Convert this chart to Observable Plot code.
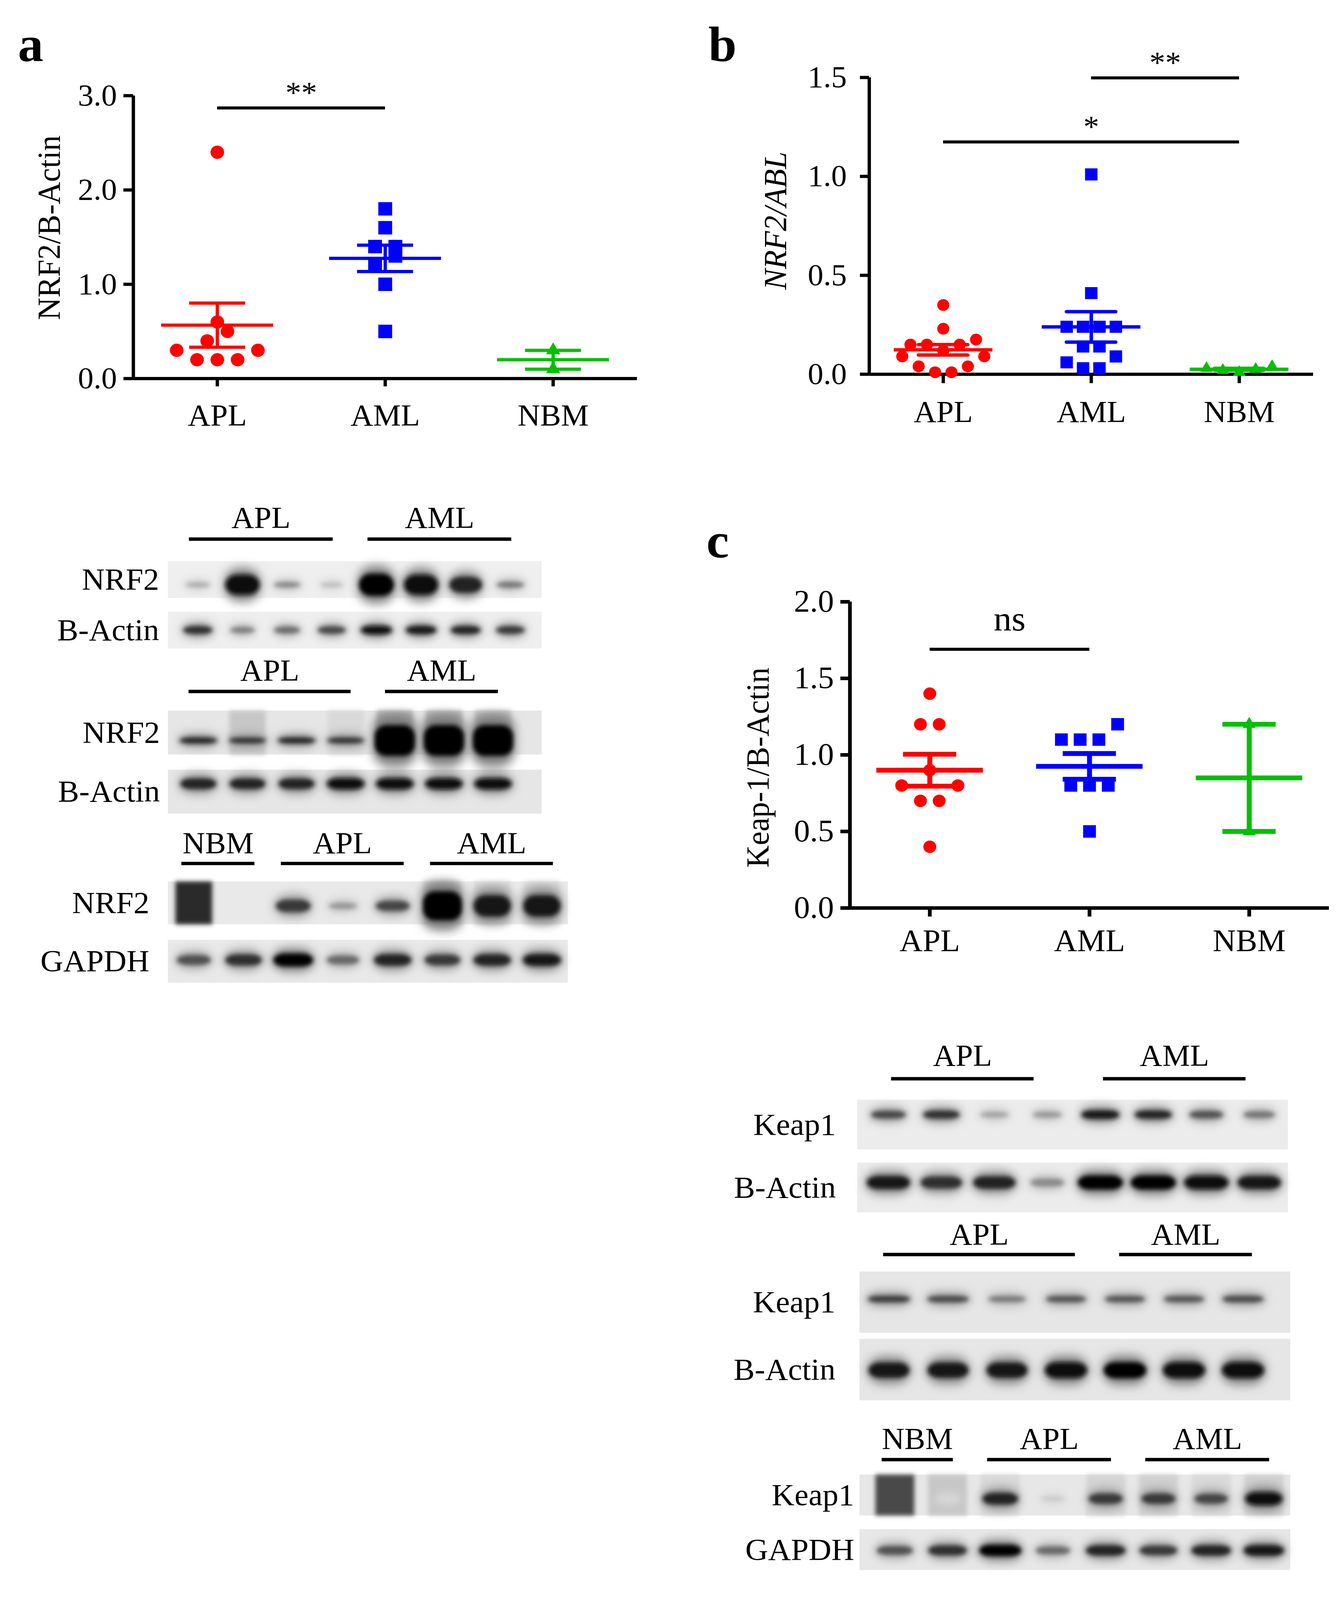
<!DOCTYPE html>
<html>
<head>
<meta charset="utf-8">
<script src="https://cdn.jsdelivr.net/npm/d3@7"></script>
<script src="https://cdn.jsdelivr.net/npm/@observablehq/plot@0.6"></script>
<style>
html, body { margin: 0; padding: 0; background: #fff; overflow: hidden; }
#fig { position: relative; width: 3434px; height: 4222px; background: #fff; overflow: hidden; transform-origin: 0 0; }
.panel { position: absolute; }
.panel svg { display: block; max-width: none !important; }
.letter { position: absolute; font: bold 130px/1 "Liberation Serif", "Times New Roman", serif; color: #000; }
svg g[aria-label^="x-axis"] line, svg g[aria-label^="y-axis"] line,
svg g[aria-label="x-axis tick"] path, svg g[aria-label="y-axis tick"] path { stroke-width: var(--tw, 8.5px); }
</style>
</head>
<body>
<div id="fig"></div>
<script>
// ---------------- DATA ----------------
const categories = ["APL", "AML", "NBM"];

// (a) NRF2 protein / B-Actin
const nrf2ProteinAPL = [2.4, 0.6, 0.5, 0.4, 0.3, 0.3, 0.2, 0.2, 0.2];
const nrf2ProteinAML = [1.8, 1.6, 1.4, 1.4, 1.3, 1.2, 1.0, 0.5];
const nrf2ProteinNBM = [0.3, 0.1];
const yTicksA = [0, 1, 2, 3];
const sigA = [{from: "APL", to: "AML", label: "**", y: 2.87}];

// (b) NRF2 mRNA / ABL
const nrf2mRNA_APL = [0.35, 0.23, 0.175, 0.15, 0.15, 0.15, 0.12, 0.09, 0.09, 0.04, 0.04, 0.01, 0.01];
const nrf2mRNA_AML = [1.01, 0.41, 0.24, 0.24, 0.24, 0.24, 0.14, 0.14, 0.09, 0.06, 0.03, 0.03];
const nrf2mRNA_NBM = [0.04, 0.025, 0.01, 0.02, 0.03];
const yTicksB = [0, 0.5, 1, 1.5];
const sigB = [
  {from: "APL", to: "NBM", label: "*", y: 1.174},
  {from: "AML", to: "NBM", label: "**", y: 1.498}
];

// (c) Keap-1 / B-Actin
const keap1APL = [1.4, 1.2, 1.2, 0.9, 0.8, 0.8, 0.7, 0.7, 0.4];
const keap1AML = [1.2, 1.1, 1.1, 1.1, 0.8, 0.8, 0.8, 0.5];
const keap1NBM = [1.2, 0.5];
const yTicksC = [0, 0.5, 1, 1.5, 2];
const sigC = [{from: "APL", to: "AML", label: "ns", y: 1.69}];

// Western blots: lane groups and band intensities (0 = none, 1 = saturated)
const blotA1Lanes = ["APL", "APL", "APL", "APL", "AML", "AML", "AML", "AML"];
const blotA1NRF2 = [0.3, 0.95, 0.45, 0.2, 1.0, 0.95, 0.85, 0.5];
const blotA1Actin = [0.8, 0.45, 0.55, 0.7, 0.95, 0.9, 0.85, 0.75];

const blotA2Lanes = ["APL", "APL", "APL", "APL", "AML", "AML", "AML"];
const blotA2NRF2 = [0.85, 0.8, 0.85, 0.8, 1.0, 1.0, 1.0];
const blotA2NRF2Smear = [0, 0.12, 0, 0.04, 0.22, 0.2, 0.16];
const blotA2Actin = [0.85, 0.85, 0.85, 0.95, 0.95, 0.95, 0.95];

const blotA3Lanes = ["NBM", "NBM", "APL", "APL", "APL", "AML", "AML", "AML"];
const blotA3NRF2 = [0, 0, 0.75, 0.35, 0.7, 1.0, 0.9, 0.9];
const blotA3NRF2Smear = [0.82, 0, 0, 0, 0, 0.1, 0.04, 0.04];
const blotA3GAPDH = [0.65, 0.8, 1.0, 0.55, 0.85, 0.75, 0.85, 0.9];

const blotC1Lanes = ["APL", "APL", "APL", "APL", "AML", "AML", "AML", "AML"];
const blotC1Keap1 = [0.7, 0.8, 0.3, 0.35, 0.9, 0.85, 0.65, 0.5];
const blotC1Actin = [0.9, 0.8, 0.85, 0.4, 1.0, 1.0, 0.95, 0.9];

const blotC2Lanes = ["APL", "APL", "APL", "APL", "AML", "AML", "AML"];
const blotC2Keap1 = [0.75, 0.7, 0.5, 0.65, 0.65, 0.65, 0.7];
const blotC2Actin = [0.9, 0.9, 0.9, 0.97, 1.0, 0.97, 0.97];

const blotC3Lanes = ["NBM", "NBM", "APL", "APL", "APL", "AML", "AML", "AML"];
const blotC3Keap1 = [0, 0.05, 0.85, 0.12, 0.75, 0.75, 0.7, 0.95];
const blotC3Keap1Smear = [0.68, 0.12, 0.04, 0, 0.06, 0.08, 0.04, 0.08];
const blotC3GAPDH = [0.65, 0.8, 1.0, 0.55, 0.85, 0.75, 0.85, 0.9];

// ---------------- STYLE ----------------
const COLORS = {APL: "#ff0000", AML: "#0000ff", NBM: "#00c000"};
const SYMBOLS = {APL: "circle", AML: "square", NBM: "triangle"};
const FONT = "'Liberation Serif', 'Times New Roman', serif";

const fig = document.getElementById("fig");
// fit the 3434x4222 figure into the visible viewport
(function fit() {
  const vw = window.innerWidth || 3434, vh = window.innerHeight || 4222;
  const sx = Math.min(1, vw / 3434), sy = Math.min(1, vh / 4222);
  if (sx < 1 || sy < 1) fig.style.transform = `scale(${sx}, ${sy})`;
})();

function place(node, left, top, w, h, extraStyle) {
  const d = document.createElement("div");
  d.className = "panel";
  d.style.left = left + "px"; d.style.top = top + "px";
  d.style.width = w + "px"; d.style.height = h + "px";
  if (extraStyle) for (const k in extraStyle) d.style.setProperty(k, extraStyle[k]);
  d.appendChild(node);
  fig.appendChild(d);
  return d;
}
function letter(t, left, top) {
  const d = document.createElement("div");
  d.className = "letter"; d.textContent = t;
  d.style.left = left + "px"; d.style.top = top + "px";
  fig.appendChild(d);
}

// GraphPad-like scatter spreading: points binned into rows, spread symmetrically
function swarm(values, pxPerUnit, rowPx, slotPx) {
  const pts = values.map(v => ({v})).sort((a, b) => a.v - b.v);
  const rows = [];
  for (const p of pts) {
    const cur = rows[rows.length - 1];
    if (!cur || (p.v - cur[0].v) * pxPerUnit >= rowPx) rows.push([p]); else cur.push(p);
  }
  for (const row of rows) {
    const n = row.length;
    row.forEach((p, k) => {
      let s;
      if (n % 2) s = k === 0 ? 0 : Math.ceil(k / 2) * (k % 2 ? -1 : 1);
      else s = (Math.floor(k / 2) + 0.5) * (k % 2 ? 1 : -1);
      p.off = s * slotPx;
    });
  }
  return pts;
}

function scatterPanel(cfg) {
  const L = cfg.layout, S = cfg.style;
  const nc = categories.length;
  const fw = L.width - L.marginLeft - L.marginRight;
  const fh = L.height - L.marginTop - L.marginBottom;
  const pxX = fw / nc;
  const pxY = fh / (cfg.yDomain[1] - cfg.yDomain[0]);
  const marks = [];
  marks.push(Plot.ruleY([cfg.yDomain[0]], {x1: -0.5, x2: nc - 0.5, strokeWidth: S.axisWidth}));
  marks.push(Plot.ruleX([-0.5], {y1: cfg.yDomain[0], y2: cfg.yDomain[1], strokeWidth: S.axisWidth}));
  cfg.groups.forEach((values, gi) => {
    const cat = categories[gi];
    const pts = swarm(values, pxY, S.rowPx, S.slotPx).map(p => ({value: p.v, x: gi + p.off / pxX}));
    marks.push(Plot.dot(pts, {x: "x", y: "value", r: S.r[cat], symbol: SYMBOLS[cat], fill: COLORS[cat], stroke: "none"}));
    const m = d3.mean(values), se = d3.deviation(values) / Math.sqrt(values.length);
    const st = [{m, lo: m - se, hi: m + se}];
    marks.push(Plot.ruleX(st, {x: gi, y1: "lo", y2: "hi", stroke: COLORS[cat], strokeWidth: S.lineWidth}));
    marks.push(Plot.ruleY(st, {y: "m", x1: gi - 1 / 3, x2: gi + 1 / 3, stroke: COLORS[cat], strokeWidth: S.lineWidth}));
    marks.push(Plot.ruleY([st[0].lo, st[0].hi], {y: d => d, x1: gi - 1 / 6, x2: gi + 1 / 6, stroke: COLORS[cat], strokeWidth: S.lineWidth, strokeLinecap: S.capLinecap}));
  });
  cfg.sig.forEach(s => {
    const i1 = categories.indexOf(s.from), i2 = categories.indexOf(s.to);
    const star = /^\*+$/.test(s.label);
    marks.push(Plot.ruleY([s], {y: "y", x1: i1, x2: i2, strokeWidth: S.sigWidth}));
    marks.push(Plot.text([s], {x: (i1 + i2) / 2, y: "y", text: "label", lineAnchor: "bottom",
      dy: star ? -14 : -50, fontSize: star ? 81 : 92}));
  });
  marks.push(Plot.text([cfg.yLabel], {text: d => d, frameAnchor: "left", rotate: -90, textAnchor: "middle", lineAnchor: "middle",
    dx: L.labelDx, dy: L.labelDy, fontSize: 82, fontStyle: cfg.italic ? "italic" : "normal"}));
  return Plot.plot({
    width: L.width, height: L.height,
    marginLeft: L.marginLeft, marginRight: L.marginRight, marginTop: L.marginTop, marginBottom: L.marginBottom,
    x: {domain: [-0.5, nc - 0.5], ticks: d3.range(nc), tickFormat: i => categories[i],
        tickSize: S.xTickSize, tickPadding: S.xTickPad, label: null},
    y: {domain: cfg.yDomain, ticks: cfg.yTicks, tickFormat: d3.format(".1f"),
        tickSize: S.yTickSize, tickPadding: S.yTickPad, label: null},
    style: {fontFamily: FONT, fontSize: S.fontSize + "px", color: "#000", background: "transparent", overflow: "visible"},
    marks
  });
}

function runs(labels) {
  const out = [];
  labels.forEach((l, i) => {
    const last = out[out.length - 1];
    if (last && last.name === l) last.last = i; else out.push({name: l, first: i, last: i});
  });
  return out;
}

let blurId = 0;
function addFilters(svg, specs) {
  const ns = "http://www.w3.org/2000/svg";
  const defs = document.createElementNS(ns, "defs");
  svg.insertBefore(defs, svg.firstChild);
  for (const [desc, std] of specs) {
    const id = "blotblur" + (blurId++);
    const f = document.createElementNS(ns, "filter");
    f.setAttribute("id", id);
    f.setAttribute("x", "-50%"); f.setAttribute("y", "-100%");
    f.setAttribute("width", "200%"); f.setAttribute("height", "300%");
    const gb = document.createElementNS(ns, "feGaussianBlur");
    gb.setAttribute("stdDeviation", std);
    f.appendChild(gb); defs.appendChild(f);
    svg.querySelectorAll(`g[aria-description="${desc}"]`).forEach(g => g.setAttribute("filter", `url(#${id})`));
  }
}

function blotPanel(cfg) {
  const L = cfg.layout;
  const n = cfg.lanes.length;
  const g = L.gap / L.stripH;
  const nr = cfg.rows.length;
  const H = nr + (nr - 1) * g;
  const xDom = [-L.padL, n + L.padR];
  const rows = cfg.rows.map((r, ri) => ({...r, top: ri * (1 + g)}));
  const bands = [], halos = [], smears = [];
  rows.forEach((r, ri) => {
    const st = cfg.rowStyles[ri];
    r.values.forEach((v, i) => {
      if (v <= 0) return;
      const h = Math.max(st.hmin, st.hmax * Math.pow(v, st.gamma));
      const w = st.wmax * (0.6 + 0.4 * v);
      const cy = r.top + st.center;
      bands.push({v, x1: i + 0.5 - w / 2, x2: i + 0.5 + w / 2, y1: cy - h / 2, y2: cy + h / 2});
      const hh = h * 1.6 + 0.06, hw = w * 1.08;
      halos.push({v: v * 0.45, x1: i + 0.5 - hw / 2, x2: i + 0.5 + hw / 2, y1: cy - hh / 2, y2: cy + hh / 2});
    });
    (r.smear || []).forEach((s, i) => {
      if (s > 0) smears.push({s, x1: i + 0.13, x2: i + 0.87, y1: r.top, y2: r.top + 1});
    });
  });
  const groups = runs(cfg.lanes);
  const svgTop = L.top - 140;
  const height = 140 + H * L.stripH + 20;
  const svg = Plot.plot({
    width: L.svgWidth, height,
    marginLeft: L.left - L.svgLeft, marginRight: L.svgLeft + L.svgWidth - L.right,
    marginTop: 140, marginBottom: 20,
    x: {domain: xDom, axis: null},
    y: {domain: [0, H], reverse: true, axis: null},
    color: {type: "linear", domain: [0, 1], range: ["#e2e2e2", "#000000"]},
    style: {fontFamily: FONT, fontSize: "80px", color: "#000", background: "transparent", overflow: "visible"},
    marks: [
      Plot.rect(rows, {x1: xDom[0], x2: xDom[1], y1: "top", y2: d => d.top + 1, fill: L.bg}),
      Plot.rect(smears, {x1: "x1", x2: "x2", y1: "y1", y2: "y2", fill: "s", ariaDescription: "smear"}),
      Plot.rect(halos, {x1: "x1", x2: "x2", y1: "y1", y2: "y2", fill: "v", rx: 40, ariaDescription: "halo"}),
      Plot.rect(bands, {x1: "x1", x2: "x2", y1: "y1", y2: "y2", fill: "v", rx: 30, ariaDescription: "bands"}),
      Plot.text(rows, {x: xDom[0], y: d => d.top + 0.5, text: "name", textAnchor: "end", dx: -L.labelPad, fontSize: 81}),
      Plot.ruleY(groups, {x1: d => d.first + L.barInset[0], x2: d => d.last + L.barInset[1], y: -L.barY / L.stripH, strokeWidth: 9}),
      Plot.text(groups, {x: d => (d.first + L.barInset[0] + d.last + L.barInset[1]) / 2, y: -L.textY / L.stripH,
        text: "name", lineAnchor: "bottom", fontSize: 80})
    ]
  });
  addFilters(svg, [["smear", 6], ["halo", 13], ["bands", 6]]);
  place(svg, L.svgLeft, svgTop, L.svgWidth, height);
}

// ---------------- SCATTER PANELS ----------------
const plotA = scatterPanel({
  groups: [nrf2ProteinAPL, nrf2ProteinAML, nrf2ProteinNBM],
  yDomain: [0, 3], yTicks: yTicksA, sig: sigA, yLabel: "NRF2/B-Actin", italic: false,
  layout: {width: 1720, height: 1200, marginLeft: 341, marginRight: 89, marginTop: 252, marginBottom: 201.5, labelDx: -215, labelDy: -25},
  style: {axisWidth: 8.5, lineWidth: 8.5, sigWidth: 8, capLinecap: "butt", rowPx: 45, slotPx: 52,
          r: {APL: 17.5, AML: 20, NBM: 13.5}, xTickSize: 21, xTickPad: 46, yTickSize: 25, yTickPad: 17, fontSize: 80}
});
place(plotA, 0, 0, 1720, 1200, {"--tw": "8.5px"});

const plotB = scatterPanel({
  groups: [nrf2mRNA_APL, nrf2mRNA_AML, nrf2mRNA_NBM],
  yDomain: [0, 1.5], yTicks: yTicksB, sig: sigB, yLabel: "NRF2/ABL", italic: true,
  layout: {width: 1694, height: 1200, marginLeft: 485.5, marginRight: 71.5, marginTop: 204, marginBottom: 213, labelDx: -239.5, labelDy: -13.5},
  style: {axisWidth: 8.5, lineWidth: 9, sigWidth: 8, capLinecap: "round", rowPx: 45, slotPx: 42,
          r: {APL: 15.5, AML: 18, NBM: 12}, xTickSize: 24, xTickPad: 45, yTickSize: 23.5, yTickPad: 34, fontSize: 80}
});
place(plotB, 1740, 0, 1694, 1200, {"--tw": "8.5px"});

const plotC = scatterPanel({
  groups: [keap1APL, keap1AML, keap1NBM],
  yDomain: [0, 2], yTicks: yTicksC, sig: sigC, yLabel: "Keap-1/B-Actin", italic: false,
  layout: {width: 1694, height: 1200, marginLeft: 436, marginRight: 31, marginTop: 287.5, marginBottom: 104.5, labelDx: -235, labelDy: 33.5},
  style: {axisWidth: 9.5, lineWidth: 12.7, sigWidth: 8, capLinecap: "butt", rowPx: 45, slotPx: 48,
          r: {APL: 16.5, AML: 18.5, NBM: 12.5}, xTickSize: 23, xTickPad: 33, yTickSize: 24, yTickPad: 17, fontSize: 82}
});
place(plotC, 1740, 1300, 1694, 1200, {"--tw": "9.5px"});

// ---------------- BLOTS ----------------
blotPanel({
  lanes: blotA1Lanes,
  rows: [{name: "NRF2", values: blotA1NRF2}, {name: "B-Actin", values: blotA1Actin}],
  rowStyles: [{center: 0.64, hmax: 0.6, gamma: 2, hmin: 0.1, wmax: 0.78},
              {center: 0.5, hmax: 0.24, gamma: 0.5, hmin: 0.12, wmax: 0.72}],
  layout: {svgLeft: 0, svgWidth: 1720, left: 430, right: 1387, top: 1481, stripH: 97, gap: 36, padL: 0.17, padR: 0.2,
           barY: 59, textY: 89, barInset: [0.3, 0.52], labelPad: 23, bg: "#efefef"}
});
blotPanel({
  lanes: blotA2Lanes,
  rows: [{name: "NRF2", values: blotA2NRF2, smear: blotA2NRF2Smear}, {name: "B-Actin", values: blotA2Actin}],
  rowStyles: [{center: 0.68, hmax: 0.7, gamma: 10, hmin: 0.13, wmax: 0.82},
              {center: 0.32, hmax: 0.26, gamma: 0.5, hmin: 0.15, wmax: 0.78}],
  layout: {svgLeft: 0, svgWidth: 1720, left: 430, right: 1387, top: 1875, stripH: 116, gap: 40, padL: 0.12, padR: 0.49,
           barY: 51, textY: 80, barInset: [0.3, 0.6], labelPad: 21, bg: "#e6e6e6"}
});
blotPanel({
  lanes: blotA3Lanes,
  rows: [{name: "NRF2", values: blotA3NRF2, smear: blotA3NRF2Smear}, {name: "GAPDH", values: blotA3GAPDH}],
  rowStyles: [{center: 0.57, hmax: 0.68, gamma: 3, hmin: 0.13, wmax: 0.78},
              {center: 0.47, hmax: 0.3, gamma: 0.7, hmin: 0.14, wmax: 0.8}],
  layout: {svgLeft: 0, svgWidth: 1720, left: 430, right: 1454, top: 2326, stripH: 113, gap: 41, padL: 0.02, padR: 0.02,
           barY: 48, textY: 75, barInset: [0.25, 0.72], labelPad: 48, bg: "#e9e9e9"}
});
blotPanel({
  lanes: blotC1Lanes,
  rows: [{name: "Keap1", values: blotC1Keap1}, {name: "B-Actin", values: blotC1Actin}],
  rowStyles: [{center: 0.3, hmax: 0.18, gamma: 0.5, hmin: 0.1, wmax: 0.75},
              {center: 0.4, hmax: 0.28, gamma: 0.7, hmin: 0.12, wmax: 0.85}],
  layout: {svgLeft: 1740, svgWidth: 1694, left: 2195, right: 3298, top: 2902, stripH: 131, gap: 35, padL: 0.09, padR: 0.04,
           barY: 56, textY: 91, barInset: [0.55, 0.24], labelPad: 55, bg: "#ececec"}
});
blotPanel({
  lanes: blotC2Lanes,
  rows: [{name: "Keap1", values: blotC2Keap1}, {name: "B-Actin", values: blotC2Actin}],
  rowStyles: [{center: 0.45, hmax: 0.12, gamma: 0.5, hmin: 0.08, wmax: 0.8},
              {center: 0.51, hmax: 0.26, gamma: 0.5, hmin: 0.15, wmax: 0.72}],
  layout: {svgLeft: 1740, svgWidth: 1694, left: 2201, right: 3304, top: 3355, stripH: 162, gap: 16, padL: 0, padR: 0.3,
           barY: 45, textY: 72, barInset: [0.4, 0.65], labelPad: 62, bg: "#e6e6e6"}
});
blotPanel({
  lanes: blotC3Lanes,
  rows: [{name: "Keap1", values: blotC3Keap1, smear: blotC3Keap1Smear}, {name: "GAPDH", values: blotC3GAPDH}],
  rowStyles: [{center: 0.59, hmax: 0.34, gamma: 1, hmin: 0.1, wmax: 0.72},
              {center: 0.52, hmax: 0.28, gamma: 0.7, hmin: 0.14, wmax: 0.8}],
  layout: {svgLeft: 1740, svgWidth: 1694, left: 2201, right: 3304, top: 3891, stripH: 108, gap: 36, padL: 0.17, padR: 0,
           barY: 40, textY: 68, barInset: [0.25, 0.6], labelPad: 14, bg: "#e7e7e7"}
});

// ---------------- PANEL LETTERS ----------------
letter("a", 46, 52);
letter("b", 1814, 52);
letter("c", 1809, 1362);
</script>
</body>
</html>
